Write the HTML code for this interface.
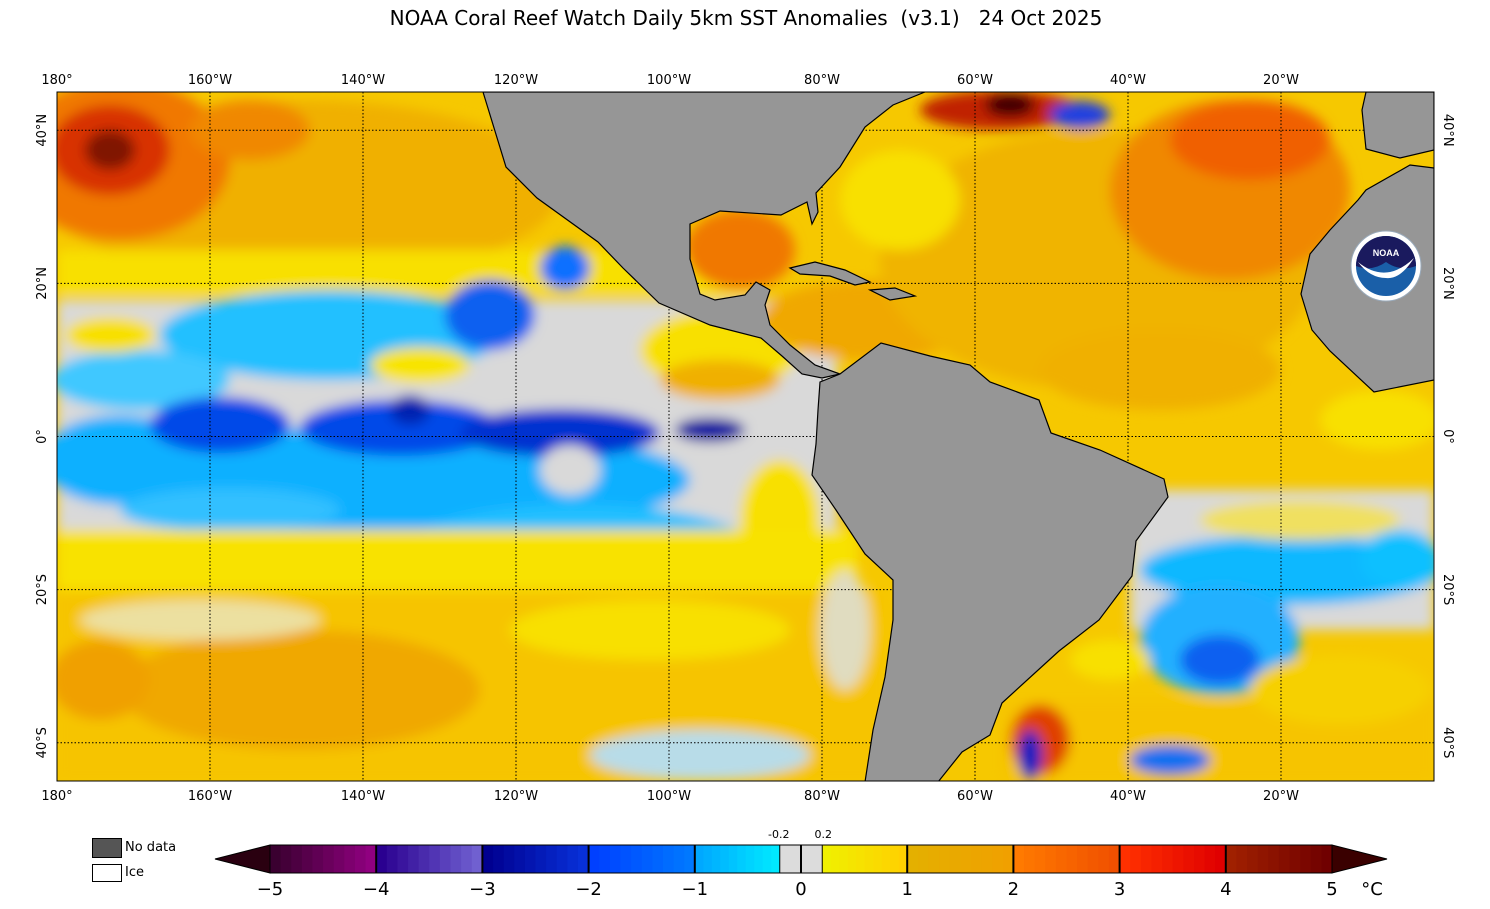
<!DOCTYPE html>
<html><head><meta charset="utf-8">
<style>
html,body{margin:0;padding:0;background:#fff;}
body{width:1490px;height:909px;position:relative;overflow:hidden;font-family:"DejaVu Sans","Liberation Sans",sans-serif;}
.t{position:absolute;font-size:13px;color:#000;}
</style></head>
<body>
<div style="position:absolute;left:0;width:1492px;top:6px;text-align:center;font-size:20px;">NOAA Coral Reef Watch Daily 5km SST Anomalies&nbsp; (v3.1) &nbsp; 24 Oct 2025</div>
<svg id="map" width="1490" height="909" style="position:absolute;left:0;top:0" xmlns="http://www.w3.org/2000/svg">
<defs>
<clipPath id="mc"><rect x="57" y="92" width="1377" height="689"/></clipPath>
<filter id="bl" x="-20%" y="-20%" width="140%" height="140%"><feGaussianBlur stdDeviation="6"/></filter>
</defs>
<g clip-path="url(#mc)">
<rect x="57" y="92" width="1377" height="689" fill="#f6c800"/>
<g filter="url(#bl)">
<ellipse cx="300" cy="190" rx="260" ry="90" fill="#f0b000"/>
<ellipse cx="120" cy="160" rx="110" ry="80" fill="#f07800"/>
<ellipse cx="110" cy="150" rx="60" ry="45" fill="#d83000"/>
<ellipse cx="110" cy="150" rx="25" ry="20" fill="#801800"/>
<ellipse cx="250" cy="130" rx="60" ry="30" fill="#f08800"/>
<rect x="57" y="250" width="700" height="45" fill="#f8e000"/>
<rect x="57" y="300" width="780" height="290" fill="#d9d9d9"/>
<ellipse cx="330" cy="335" rx="170" ry="45" fill="#20c0ff"/>
<ellipse cx="490" cy="315" rx="45" ry="35" fill="#1060f0"/>
<ellipse cx="565" cy="268" rx="25" ry="22" fill="#1070ff"/>
<ellipse cx="140" cy="380" rx="90" ry="30" fill="#40c8ff"/>
<ellipse cx="120" cy="460" rx="80" ry="45" fill="#10b0ff"/>
<ellipse cx="400" cy="480" rx="290" ry="55" fill="#10b0ff"/>
<ellipse cx="580" cy="545" rx="170" ry="40" fill="#20c0ff"/>
<ellipse cx="680" cy="575" rx="110" ry="18" fill="#30c8ff"/>
<ellipse cx="230" cy="510" rx="110" ry="22" fill="#30c0ff"/>
<ellipse cx="720" cy="350" rx="80" ry="40" fill="#f8e000"/>
<ellipse cx="420" cy="365" rx="50" ry="18" fill="#f8e400"/>
<ellipse cx="110" cy="335" rx="45" ry="18" fill="#f8e000"/>
<ellipse cx="780" cy="520" rx="40" ry="60" fill="#f8e000"/>
<ellipse cx="220" cy="425" rx="70" ry="28" fill="#0048e8"/>
<ellipse cx="400" cy="428" rx="100" ry="28" fill="#0048e8"/>
<ellipse cx="560" cy="433" rx="100" ry="24" fill="#0030d0"/>
<ellipse cx="410" cy="410" rx="20" ry="15" fill="#0020b0"/>
<ellipse cx="710" cy="430" rx="35" ry="12" fill="#0010a0"/>
<ellipse cx="570" cy="470" rx="30" ry="25" fill="#d9d9d9"/>
<rect x="57" y="530" width="800" height="70" fill="#f8e200"/>
<rect x="57" y="590" width="830" height="191" fill="#f6c400"/>
<ellipse cx="300" cy="690" rx="180" ry="60" fill="#f0a800"/>
<ellipse cx="100" cy="680" rx="50" ry="40" fill="#f0a000"/>
<ellipse cx="650" cy="630" rx="140" ry="30" fill="#f8e000"/>
<ellipse cx="200" cy="620" rx="120" ry="20" fill="#ece0a0"/>
<ellipse cx="700" cy="755" rx="110" ry="25" fill="#b8dce8"/>
<ellipse cx="845" cy="630" rx="25" ry="60" fill="#e0dcc0"/>
<ellipse cx="740" cy="250" rx="55" ry="40" fill="#f07800"/>
<ellipse cx="870" cy="320" rx="110" ry="40" fill="#f0a800"/>
<ellipse cx="720" cy="380" rx="60" ry="20" fill="#f0b000"/>
<ellipse cx="1100" cy="260" rx="220" ry="130" fill="#f0b400"/>
<ellipse cx="1230" cy="190" rx="120" ry="90" fill="#f08800"/>
<ellipse cx="1250" cy="140" rx="80" ry="40" fill="#f06000"/>
<ellipse cx="900" cy="200" rx="60" ry="50" fill="#f8e000"/>
<ellipse cx="1000" cy="110" rx="80" ry="20" fill="#c02000"/>
<ellipse cx="1010" cy="105" rx="25" ry="12" fill="#400000"/>
<ellipse cx="1080" cy="115" rx="30" ry="14" fill="#2040e0"/>
<ellipse cx="1160" cy="370" rx="120" ry="40" fill="#f0b000"/>
<ellipse cx="1380" cy="420" rx="60" ry="30" fill="#f8e000"/>
<rect x="1130" y="490" width="304" height="140" fill="#d9d9d9"/>
<ellipse cx="1290" cy="570" rx="150" ry="35" fill="#10b8ff"/>
<ellipse cx="1400" cy="560" rx="40" ry="30" fill="#10c0ff"/>
<ellipse cx="1220" cy="640" rx="80" ry="55" fill="#20b0ff"/>
<ellipse cx="1220" cy="660" rx="40" ry="25" fill="#1060f0"/>
<ellipse cx="1300" cy="520" rx="100" ry="20" fill="#f0e060"/>
<rect x="1000" y="700" width="434" height="81" fill="#f6c400"/>
<ellipse cx="1340" cy="690" rx="90" ry="35" fill="#f6d000"/>
<ellipse cx="1040" cy="740" rx="30" ry="35" fill="#e04000"/>
<ellipse cx="1030" cy="755" rx="12" ry="25" fill="#0020c0"/>
<ellipse cx="1170" cy="760" rx="40" ry="15" fill="#1070f0"/>
<ellipse cx="1110" cy="660" rx="40" ry="20" fill="#f8e000"/>
</g>
<g stroke="#000" stroke-width="1" stroke-dasharray="1.5,2" fill="none" id="grid"></g>
<g fill="#969696" stroke="#000" stroke-width="1.2">
<polygon points="483,92 506,167 537,198 598,242 623,268 659,303 710,325 761,338 782,356 802,374 822,378 840,374 815,365 790,345 770,325 765,305 770,290 756,282 745,295 715,300 700,294 690,259 690,224 720,211 781,215 807,202 812,224 818,212 816,193 840,167 865,127 893,105 925,92"/>
<polygon points="820,382 840,374 881,343 930,356 970,365 990,382 1039,400 1051,433 1100,450 1164,479 1168,497 1136,541 1132,576 1099,620 1059,651 1002,703 990,735 962,752 938,782 865,782 873,730 885,677 893,620 893,580 865,554 836,510 812,475 816,444 818,410"/>
<polygon points="1434,168 1410,165 1366,190 1358,200 1330,230 1310,254 1301,294 1312,330 1330,351 1374,392 1434,380 1434,168"/>
<polygon points="1366,92 1434,92 1434,150 1400,158 1366,149 1362,110"/>
<polygon points="790,268 815,262 845,270 870,282 855,285 830,276 800,274"/>
<polygon points="870,290 895,288 915,296 890,300"/>
</g>
<g>
<circle cx="1386" cy="266" r="35" fill="#fff" stroke="#9ab" stroke-width="1"/>
<circle cx="1386" cy="266" r="30" fill="#1a5fa8"/>
<path d="M1356,266 A30,30 0 0 1 1416,266 Q1400,272 1386,262 Q1372,272 1356,266Z" fill="#1a1a5e"/>
<path d="M1358,262 Q1386,285 1414,258 Q1400,280 1386,278 Q1370,278 1358,262Z" fill="#fff"/>
<text x="1386" y="256" font-size="9" font-weight="bold" fill="#fff" text-anchor="middle" font-family="Liberation Sans, sans-serif">NOAA</text>
</g>
</g>
<rect x="57" y="92" width="1377" height="689" fill="none" stroke="#000" stroke-width="1"/>
<g id="labels" font-size="13" font-family="DejaVu Sans, Liberation Sans, sans-serif"></g>
<g id="cbar"></g>
</svg>
<div>
<div style="position:absolute;left:92px;top:838px;width:28px;height:18px;background:#555;border:1px solid #000"></div>
<div class="t" style="left:125px;top:840px">No data</div></div>
<div>
<div style="position:absolute;left:92px;top:864px;width:28px;height:16px;background:#fff;border:1px solid #000"></div>
<div class="t" style="left:125px;top:865px">Ice</div></div>
<script>
const lonTicks=[180,160,140,120,100,80,60,40,20];
const latTicks=[40,20,0,-20,-40];
const cbTicks=[-5,-4,-3,-2,-1,0,1,2,3,4,5];
const cbBounds=[-5,-4,-3,-2,-1,-0.2,0.2,1,2,3,4,5];
const cbStart=["#3a0030","#2a0090","#000090","#0040ff","#00a8ff","#dcdcdc","#f0f000","#e4b000","#ff7a00","#ff3000","#a02000"];
const cbEnd=["#900080","#7060d0","#0830d8","#0078ff","#00e8ff","#dcdcdc","#ffd000","#f0a000","#f05000","#e00000","#700000"];
const NS="http://www.w3.org/2000/svg";
const X0=57,X1=1434,Y0=92,Y1=781;
const xLon=l=>X0+(180-l)*(X1-X0)/180;
const yLat=l=>Y0+(45-l)*(Y1-Y0)/90;
const grid=document.getElementById('grid');
lonTicks.slice(1).forEach(l=>{const ln=document.createElementNS(NS,'line');


ln.setAttribute('x1',xLon(l));ln.setAttribute('x2',xLon(l));ln.setAttribute('y1',Y0);ln.setAttribute('y2',Y1);grid.appendChild(ln);});
latTicks.forEach(l=>{const ln=document.createElementNS(NS,'line');


ln.setAttribute('y1',yLat(l));ln.setAttribute('y2',yLat(l));ln.setAttribute('x1',X0);ln.setAttribute('x2',X1);grid.appendChild(ln);});
const lab=document.getElementById('labels');
function txt(s,x,y,anchor,rot,size,name){const t=document.createElementNS(NS,'text');


t.setAttribute('x',x);t.setAttribute('y',y);t.setAttribute('text-anchor',anchor);if(size)t.setAttribute('font-size',size);
if(rot)t.setAttribute('transform','rotate(-90 '+x+' '+y+')');t.textContent=s;lab.appendChild(t);return t;}
lonTicks.forEach(l=>{const s=l===180?'180°':l+'°W';txt(s,xLon(l),84,'middle',0,0,'top-lon-label');txt(s,xLon(l),800,'middle',0,0,'bottom-lon-label');});
latTicks.forEach(l=>{const s=l===0?'0°':Math.abs(l)+'°'+(l>0?'N':'S');txt(s,46,yLat(l),'middle',true,0,'left-lat-label');
const t=document.createElementNS(NS,'text');


const x=1444,y=yLat(l);t.setAttribute('x',x);t.setAttribute('y',y);t.setAttribute('text-anchor','middle');t.setAttribute('transform','rotate(90 '+x+' '+y+')');t.textContent=s;lab.appendChild(t);});
const cb=document.getElementById('cbar');const CX0=270,CX1=1332,CY=845,CH=28;
const xv=v=>CX0+(v+5)*(CX1-CX0)/10;
function hex(h){return [1,3,5].map(i=>parseInt(h.substr(i,2),16));}
for(let i=0;i<cbStart.length;i++){const a=cbBounds[i],b=cbBounds[i+1];const n=(b-a)>0.5?10:1;const s=hex(cbStart[i]),e=hex(cbEnd[i]);
for(let k=0;k<n;k++){const f=n>1?k/(n-1):0;const c=s.map((v,j)=>Math.round(v+(e[j]-v)*f));
const r=document.createElementNS(NS,'rect');


const x=xv(a+(b-a)*k/n);r.setAttribute('x',x);r.setAttribute('y',CY);r.setAttribute('width',xv(a+(b-a)*(k+1)/n)-x+0.5);r.setAttribute('height',CH);r.setAttribute('fill','rgb('+c.join(',')+')');cb.appendChild(r);}}
const tl=document.createElementNS(NS,'polygon');


tl.setAttribute('points',`${CX0},${CY} ${CX0},${CY+CH} 215,${CY+CH/2}`);tl.setAttribute('fill','#2a0010');tl.setAttribute('stroke','#000');cb.appendChild(tl);
const tr=document.createElementNS(NS,'polygon');


tr.setAttribute('points',`${CX1},${CY} ${CX1},${CY+CH} 1387,${CY+CH/2}`);tr.setAttribute('fill','#3a0000');tr.setAttribute('stroke','#000');cb.appendChild(tr);
const fr=document.createElementNS(NS,'rect');


fr.setAttribute('x',CX0);fr.setAttribute('y',CY);fr.setAttribute('width',CX1-CX0);fr.setAttribute('height',CH);fr.setAttribute('fill','none');fr.setAttribute('stroke','#000');cb.appendChild(fr);
cbBounds.slice(1,-1).forEach(v=>{const ln=document.createElementNS(NS,'line');


ln.setAttribute('x1',xv(v));ln.setAttribute('x2',xv(v));ln.setAttribute('y1',CY);ln.setAttribute('y2',CY+CH);ln.setAttribute('stroke','#000');ln.setAttribute('stroke-width',(Math.abs(v)===0.2)?1:2);cb.appendChild(ln);});
const z=document.createElementNS(NS,'line');


z.setAttribute('x1',xv(0));z.setAttribute('x2',xv(0));z.setAttribute('y1',CY);z.setAttribute('y2',CY+CH);z.setAttribute('stroke','#000');z.setAttribute('stroke-width',2);cb.appendChild(z);
cbTicks.forEach(v=>{txt(v<0?'\u2212'+Math.abs(v):String(v),xv(v),895,'middle',0,18,'colorbar-tick-label');});
txt('-0.2',xv(-0.2)-1,838,'middle',0,11,'colorbar-minor-label');
txt('0.2',xv(0.2)+1,838,'middle',0,11,'colorbar-minor-label');
txt('°C',1372,895,'middle',0,18,'colorbar-unit');
</script>
</body></html>
